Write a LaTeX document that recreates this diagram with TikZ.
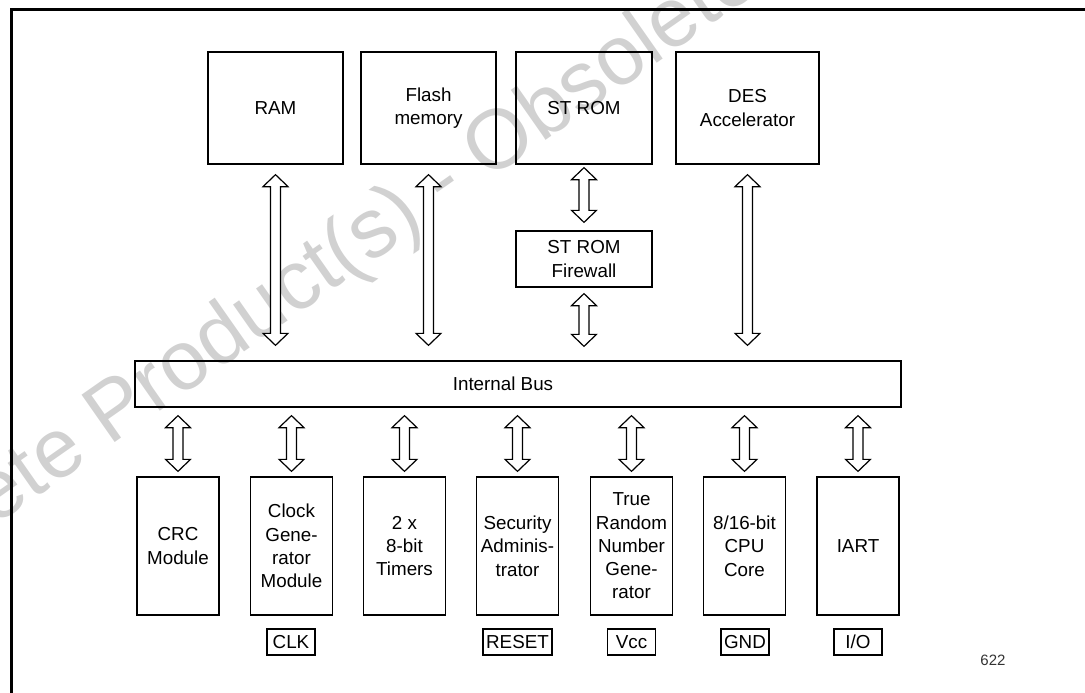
\documentclass[tikz,border=0pt]{standalone}
\usepackage{fontspec}
\setmainfont{Liberation Sans}
\usetikzlibrary{calc}
\newcommand{\dbl}[2]{%
  \path[barrow] let \p1=(#1), \p2=(#2) in
    (\x1,\y1) -- (\x1+12.5pt,\y1-12pt) -- (\x1+5pt,\y1-12pt) -- (\x1+5pt,\y2+12pt)
    -- (\x1+12.5pt,\y2+12pt) -- (\x1,\y2) -- (\x1-12.5pt,\y2+12pt) -- (\x1-5pt,\y2+12pt)
    -- (\x1-5pt,\y1-12pt) -- (\x1-12.5pt,\y1-12pt) -- cycle;}
\begin{document}
\begin{tikzpicture}[x=1pt,y=-1pt,
  blk/.style={draw, line width=1.3pt, align=center, inner sep=0pt,
    font=\fontsize{18.8}{23.3}\selectfont},
  pin/.style={draw, line width=1.3pt, inner sep=0pt, minimum height=26pt,
    minimum width=48pt, font=\fontsize{18.8}{23.3}\selectfont},
  barrow/.style={draw, line width=1.2pt, fill=white, line join=miter},
  wmark/.style={text=black!18, font=\fontsize{84}{90}\selectfont, rotate=35, inner sep=0pt}]
\useasboundingbox (0,0) rectangle (1085,693);
% watermark
\node[wmark] (wm) at (445,185) {Obsolete Product(s) - Obsolete Product(s)};
% frame
\draw[line width=2.4pt] (11.5,693) -- (11.5,9.5) -- (1085,9.5);
% top blocks
\node[blk, minimum width=135, minimum height=112] (ram) at (275.5,108) {RAM};
\node[blk, minimum width=135, minimum height=112] (flash) at (428.5,108) {Flash\\memory};
\node[blk, minimum width=136, minimum height=112] (strom) at (584,108) {ST ROM};
\node[blk, minimum width=143, minimum height=112] (des) at (747.5,108) {DES\\Accelerator};
\node[blk, minimum width=136, minimum height=56] (fw) at (584,259) {ST ROM\\Firewall};
% bus
\node[blk, minimum width=766, minimum height=46] (bus) at (518,384) {};
\node[font=\fontsize{18.8}{23.3}\selectfont, inner sep=0pt] (bustxt) at (503,384) {Internal Bus};
% bottom blocks
\node[blk, minimum width=82, minimum height=138] (crc) at (178,546) {CRC\\Module};
\node[blk, minimum width=82, minimum height=138] (clk) at (291.5,546) {Clock\\Gene-\\rator\\Module};
\node[blk, minimum width=82, minimum height=138] (tim) at (404.5,546) {2 x\\8-bit\\Timers};
\node[blk, minimum width=82, minimum height=138] (sec) at (517.5,546) {Security\\Adminis-\\trator};
\node[blk, minimum width=82, minimum height=138] (trng) at (631.5,546) {True\\Random\\Number\\Gene-\\rator};
\node[blk, minimum width=82, minimum height=138] (cpu) at (744.5,546) {8/16-bit\\CPU\\Core};
\node[blk, minimum width=82, minimum height=138] (iart) at (858,546) {IART};
% pins
\node[pin] (pclk) at (291,642) {CLK};
\node[pin, minimum width=69] (prst) at (517.5,642) {RESET};
\node[pin] (pvcc) at (631.5,642) {Vcc};
\node[pin] (pgnd) at (745,642) {GND};
\node[pin] (pio) at (858,642) {I/O};
\node[text=black!80, font=\fontsize{15}{18}\selectfont] (num) at (993,660) {622};
% arrows top
\dbl{$(ram.south)+(0,10)$}{$(ram.south|-bus.north)+(0,-15)$}
\dbl{$(flash.south)+(0,10)$}{$(flash.south|-bus.north)+(0,-15)$}
\dbl{$(des.south)+(0,10)$}{$(des.south|-bus.north)+(0,-15)$}
\dbl{$(strom.south)+(0,3)$}{$(fw.north)+(0,-8)$}
\dbl{$(fw.south)+(0,6)$}{$(fw.south|-bus.north)+(0,-14)$}
% arrows bottom
\foreach \b in {crc,clk,tim,sec,trng,cpu,iart}{
  \dbl{$(\b.north|-bus.south)+(0,8)$}{$(\b.north)+(0,-5)$}
}
\end{tikzpicture}
\end{document}
